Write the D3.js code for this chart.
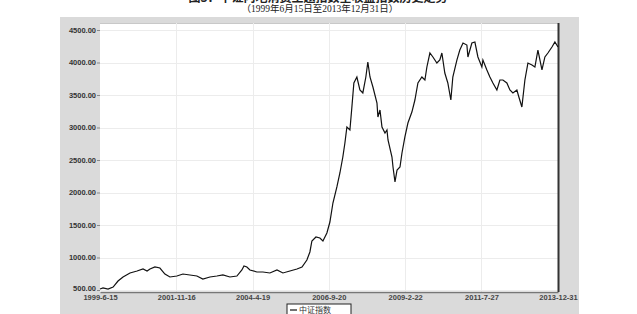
<!DOCTYPE html>
<html><head><meta charset="utf-8">
<script src="https://cdn.jsdelivr.net/npm/d3@7"></script>
<style>body{margin:0;background:#fff;}svg{display:block;}</style>
</head><body>
<svg id="c" width="637" height="314"></svg>
<script>
const titleText = "图3：中证内地消费主题指数全收益指数历史走势";
const subtitleText = "（1999年6月15日至2013年12月31日）";
const seriesName = "中证指数";
const yTicks = [500, 1000, 1500, 2000, 2500, 3000, 3500, 4000, 4500];
const xTicks = ["1999-06-15","2001-11-16","2004-04-19","2006-09-20","2009-02-22","2011-07-27","2013-12-31"];
const dates = ["1999-06-15","1999-07-20","1999-09-16","1999-11-14","2000-01-10","2000-03-08","2000-05-28","2000-08-18","2000-10-26","2000-12-12",
"2001-01-15","2001-03-13","2001-05-10","2001-07-07","2001-09-03","2001-11-23","2002-02-01","2002-04-23","2002-07-13","2002-09-20",
"2002-12-11","2003-03-02","2003-05-11","2003-07-31","2003-10-20","2003-12-17","2004-01-10","2004-02-13","2004-03-19","2004-06-08",
"2004-08-17","2004-11-06","2005-01-27","2005-04-06","2005-06-26","2005-09-16","2005-11-13","2006-01-09","2006-02-13","2006-03-08",
"2006-04-24","2006-06-09","2006-07-14","2006-08-29","2006-10-03","2006-11-07","2006-12-23","2007-01-27","2007-03-02","2007-03-26",
"2007-04-18","2007-05-23","2007-06-15","2007-07-08","2007-08-12","2007-09-16","2007-10-20","2007-11-24","2007-12-17","2008-01-11",
"2008-02-14","2008-04-01","2008-04-12","2008-05-06","2008-05-29","2008-07-03","2008-07-26","2008-08-07","2008-09-22","2008-10-04",
"2008-10-27","2008-11-20","2008-12-24","2009-01-16","2009-02-19","2009-03-26","2009-05-11","2009-06-15","2009-07-20","2009-09-04",
"2009-10-09","2009-11-01","2009-12-06","2010-01-10","2010-02-25","2010-03-31","2010-04-24","2010-05-28","2010-07-02","2010-08-06",
"2010-08-29","2010-10-15","2010-11-18","2010-12-25","2011-02-08","2011-02-20","2011-04-07","2011-05-12","2011-06-16","2011-08-01",
"2011-08-13","2011-09-28","2011-11-02","2011-12-07","2012-01-22","2012-02-26","2012-04-01","2012-05-17","2012-06-21","2012-07-26",
"2012-09-10","2012-10-03","2012-11-07","2012-12-12","2013-01-16","2013-03-04","2013-04-07","2013-05-12","2013-06-28","2013-08-01",
"2013-09-05","2013-10-22","2013-11-25","2013-12-31"];
const values = [515,531,515,546,638,700,762,792,823,792,
823,854,838,746,700,715,746,731,715,669,
700,715,731,700,715,808,869,854,808,777,
777,762,808,762,792,823,854,962,1085,1254,
1315,1300,1254,1377,1546,1838,2085,2300,2546,2762,
3008,2962,3315,3685,3777,3577,3531,3777,4008,3777,
3623,3377,3162,3269,3008,2915,2962,2808,2546,2392,
2162,2346,2392,2608,2854,3069,3238,3423,3685,3777,
3731,3931,4146,4085,3992,4038,4146,3838,3685,3423,
3777,4038,4192,4300,4269,4085,4300,4315,4085,3931,
4038,3885,3777,3685,3577,3731,3731,3685,3577,3531,
3577,3469,3315,3731,3992,3962,3931,4192,3885,4085,
4146,4238,4315,4238];

const svg = d3.select("#c");
const W = 637, H = 314;
const L = 100, R = 558, T = 23, B = 292;
const parse = d3.timeParse("%Y-%m-%d");
const data = dates.map((d, i) => ({date: parse(d), value: values[i]}));

const x = d3.scaleTime().domain([parse(xTicks[0]), parse(xTicks[xTicks.length - 1])]).range([L, R]);
const y = d3.scaleLinear().domain([500, 4500]).range([290, 30]);

// title (mostly cut off at top, as in the reference) and subtitle
svg.append("text").attr("x", 318).attr("y", 1.5).attr("text-anchor", "middle")
  .attr("font-family", "'Noto Sans CJK SC', sans-serif").attr("font-size", 12).attr("font-weight", "bold")
  .attr("fill", "#222").text(titleText);
svg.append("text").attr("x", 320).attr("y", 12).attr("text-anchor", "middle")
  .attr("font-family", "'Liberation Serif', 'Noto Sans CJK SC', serif").attr("font-size", 9.5)
  .attr("fill", "#222").text(subtitleText);

// outer grey frame
svg.append("rect").attr("x", 60).attr("y", 17).attr("width", 519).attr("height", H - 17).attr("fill", "#dadada");
// plot area
svg.append("rect").attr("x", L).attr("y", T).attr("width", R - L).attr("height", B - T).attr("fill", "#ffffff");
svg.append("line").attr("x1", L).attr("x2", R).attr("y1", T + 0.5).attr("y2", T + 0.5).attr("stroke", "#c8c8c8");

// gridlines
const g = svg.append("g");
g.selectAll(".hg").data(yTicks).join("line")
  .attr("x1", L).attr("x2", R).attr("y1", d => Math.round(y(d)) + 0.5).attr("y2", d => Math.round(y(d)) + 0.5)
  .attr("stroke", "#ececec");
g.selectAll(".vg").data(xTicks.slice(1, -1)).join("line")
  .attr("x1", d => Math.round(x(parse(d))) + 0.5).attr("x2", d => Math.round(x(parse(d))) + 0.5)
  .attr("y1", T).attr("y2", B).attr("stroke", "#ececec");

// y axis
const yAxis = d3.axisLeft(y).tickValues(yTicks).tickSize(3).tickFormat(d3.format(".2f"));
const ya = svg.append("g").attr("transform", `translate(${L},0)`).call(yAxis);
ya.select(".domain").remove();
ya.selectAll("line").attr("stroke", "#888");
ya.selectAll("text").attr("font-family", "'Liberation Sans', Arial, sans-serif").attr("font-size", 7.5)
  .attr("font-weight", "bold").attr("fill", "#333").attr("x", -4);
ya.selectAll(".tick").filter(d => d === yTicks[0]).select("text").attr("dy", "0.1em");

// x axis
const xAxis = d3.axisBottom(x).tickValues(xTicks.map(parse)).tickSize(0).tickFormat(d3.timeFormat("%Y-%-m-%-d"));
const xa = svg.append("g").attr("transform", `translate(0,${B})`).call(xAxis);
xa.select(".domain").attr("stroke", "#777").attr("stroke-width", 1.5);
xa.selectAll("text").attr("font-family", "'Liberation Sans', Arial, sans-serif").attr("font-size", 7.5)
  .attr("font-weight", "bold").attr("fill", "#444").attr("y", 3).attr("dy", "0.71em");

// right border
svg.append("line").attr("x1", R + 0.5).attr("x2", R + 0.5).attr("y1", T).attr("y2", B).attr("stroke", "#333").attr("stroke-width", 2);

// series line
const line = d3.line().x(d => x(d.date)).y(d => y(d.value));
svg.append("path").datum(data).attr("d", line).attr("fill", "none").attr("stroke", "#111").attr("stroke-width", 1.2);

// legend
const lg = svg.append("g").attr("transform", "translate(287,304)");
lg.append("rect").attr("width", 64).attr("height", 14).attr("fill", "#fff").attr("stroke", "#222").attr("stroke-width", 1);
lg.append("line").attr("x1", 3).attr("x2", 10).attr("y1", 6).attr("y2", 6).attr("stroke", "#111").attr("stroke-width", 1.2);
lg.append("text").attr("x", 12).attr("y", 9).attr("font-family", "'Noto Sans CJK SC', sans-serif").attr("font-size", 8)
  .attr("fill", "#333").text(seriesName);
</script>
</body></html>
